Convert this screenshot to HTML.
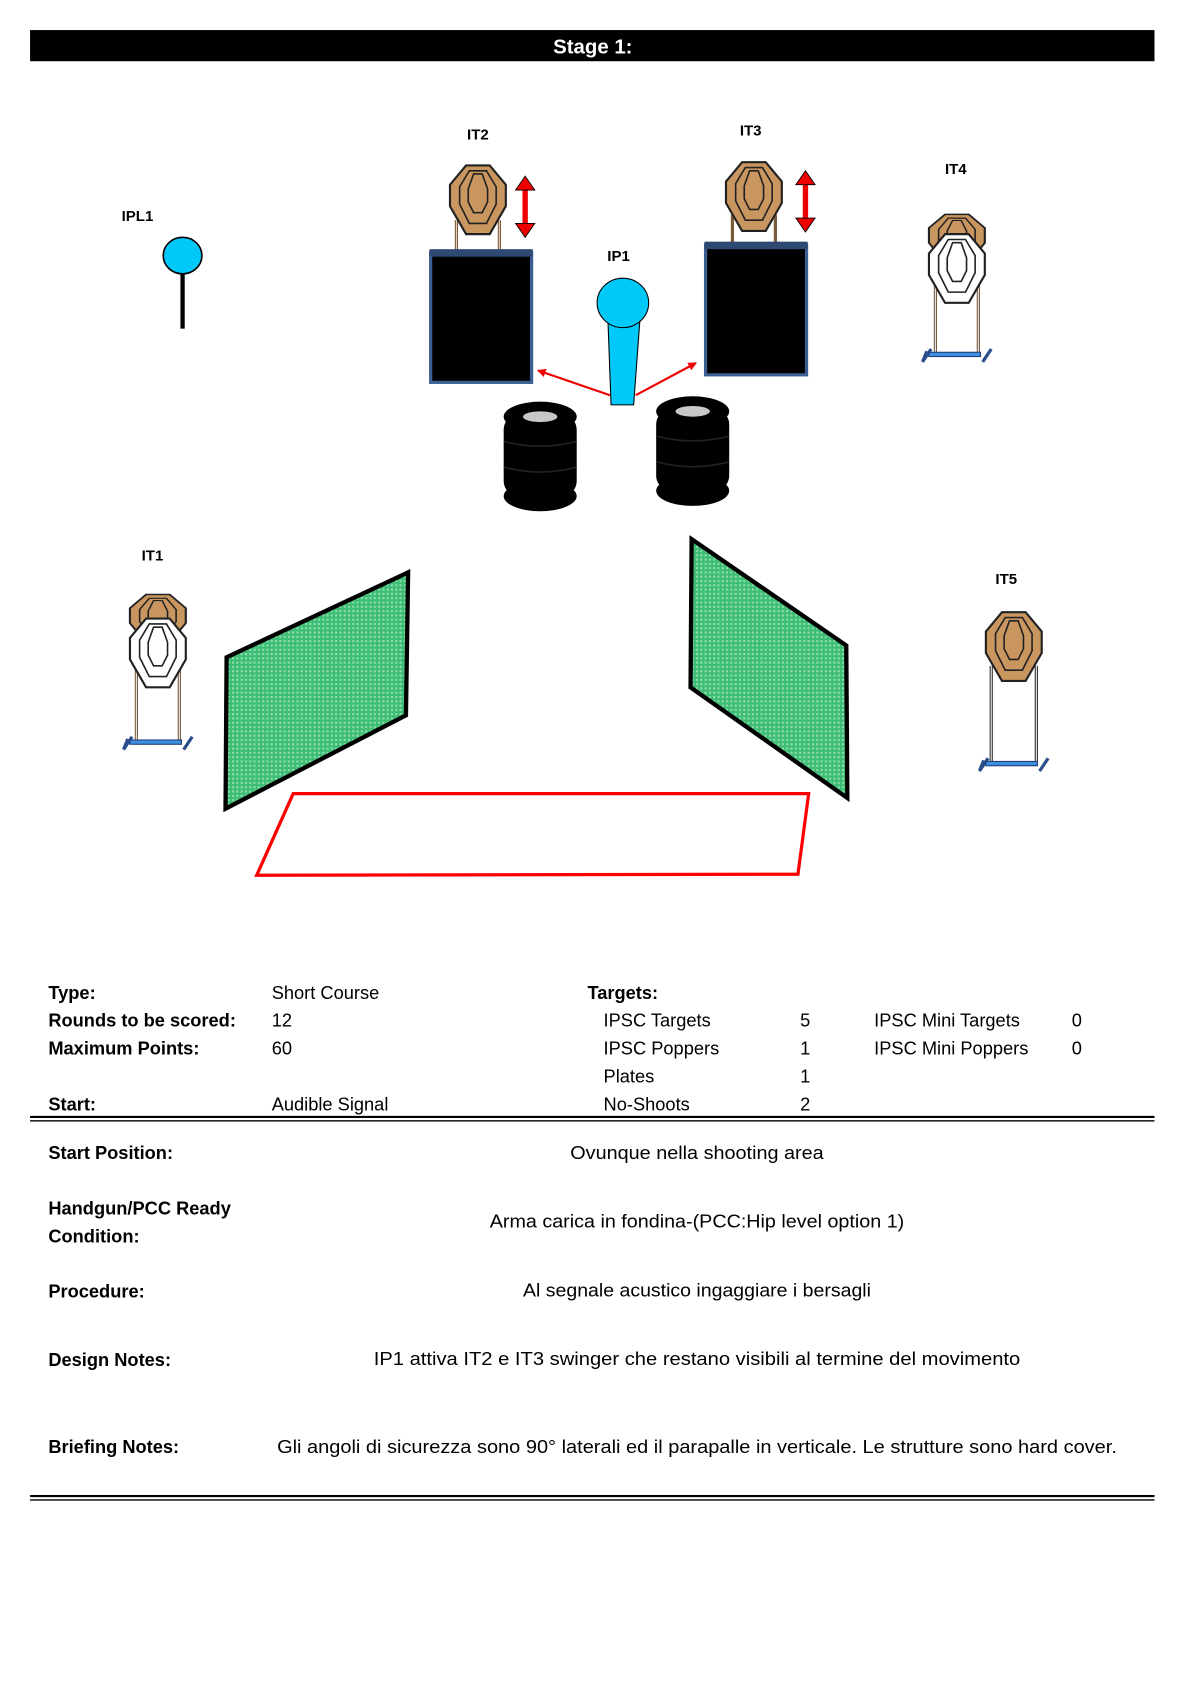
<!DOCTYPE html>
<html><head><meta charset="utf-8"><style>
html,body{margin:0;padding:0;background:#fff;}
svg{display:block;}
text{font-family:"Liberation Sans",sans-serif;}
</style></head><body>
<svg width="1191" height="1684" viewBox="0 0 1109 1568" preserveAspectRatio="none" xmlns="http://www.w3.org/2000/svg">
<defs>
<pattern id="gp" width="4" height="4" patternUnits="userSpaceOnUse">
<rect width="4" height="4" fill="#3cbd74"/>
<rect width="2" height="2" fill="#8fdcae"/>
</pattern>
<g id="tb">
<path d="M-11,-32 L11,-32 L26,-14 L26,6 L11,32 L-11,32 L-26,6 L-26,-14 Z" fill="#c9965f" stroke="#222" stroke-width="2"/>
<path d="M-8,-27 L8,-27 L17,-12 L17,4 L8,22 L-8,22 L-17,4 L-17,-12 Z" fill="none" stroke="#222" stroke-width="1.5"/>
<path d="M-4,-24 L4,-24 L9,-10 L9,2 L4,12 L-4,12 L-9,2 L-9,-10 Z" fill="none" stroke="#222" stroke-width="1.5"/>
</g>
<g id="tw">
<path d="M-11,-32 L11,-32 L26,-14 L26,6 L11,32 L-11,32 L-26,6 L-26,-14 Z" fill="#fff" stroke="#222" stroke-width="2"/>
<path d="M-8,-27 L8,-27 L17,-12 L17,4 L8,22 L-8,22 L-17,4 L-17,-12 Z" fill="none" stroke="#222" stroke-width="1.5"/>
<path d="M-4,-24 L4,-24 L9,-10 L9,2 L4,12 L-4,12 L-9,2 L-9,-10 Z" fill="none" stroke="#222" stroke-width="1.5"/>
</g>
<g id="base">
<path d="M-32,6 L-28,-4 M-32,6 L-24,-6 M32,-6 L24,6" stroke="#2a4f8a" stroke-width="3" fill="none"/>
<rect x="-26" y="-3" width="48" height="4" fill="#3d8fe0" stroke="#1f3e7a" stroke-width="1"/>
</g>
<g id="tire">
<rect x="-34" y="8" width="68" height="76" rx="14" fill="#000"/>
<ellipse cx="0" cy="10" rx="34" ry="14" fill="#000"/>
<ellipse cx="0" cy="84" rx="34" ry="14" fill="#000"/>
<ellipse cx="0" cy="10" rx="16" ry="5" fill="#c8c8c8"/>
<path d="M-34,33 Q0,42 34,33 M-34,57 Q0,66 34,57" stroke="#222" stroke-width="1.5" fill="none"/>
</g>
<marker id="ah" markerWidth="8" markerHeight="8" refX="7" refY="4" orient="auto" markerUnits="userSpaceOnUse"><path d="M0,0 L8,4 L0,8 Z" fill="#e00"/></marker>
</defs>

<rect x="28" y="28" width="1047" height="29" fill="#000"/>
<text x="552" y="50" font-size="19" font-weight="bold" fill="#fff" text-anchor="middle">Stage 1:</text>

<g font-size="14" font-weight="bold" text-anchor="middle" fill="#000">
<text x="128" y="206">IPL1</text>
<text x="445" y="130">IT2</text>
<text x="699" y="126">IT3</text>
<text x="576" y="243">IP1</text>
<text x="890" y="162">IT4</text>
<text x="142" y="522">IT1</text>
<text x="937" y="544">IT5</text>
</g>

<rect x="168" y="252" width="4" height="54" fill="#000"/>
<ellipse cx="170" cy="238" rx="18" ry="17" fill="#00c8f8" stroke="#000" stroke-width="1.5"/>

<path d="M425,205 V236 M465,205 V236" stroke="#7a5a3a" stroke-width="3"/>
<path d="M425,205 V236 M465,205 V236" stroke="#e8d8c0" stroke-width="1"/>
<use href="#tb" x="445" y="186"/>
<rect x="401" y="235" width="94" height="121" fill="#000" stroke="#3b5f93" stroke-width="3"/>
<rect x="400" y="232" width="96" height="7" fill="#2e4a73"/>
<path d="M489,175 V210" stroke="#e00" stroke-width="5"/>
<path d="M480,177 L489,164 L498,177 Z M480,208 L489,221 L498,208 Z" fill="#e00" stroke="#000" stroke-width="0.8"/>

<path d="M682,200 V229 M722,200 V229" stroke="#7a5a3a" stroke-width="3"/>
<use href="#tb" x="702" y="183"/>
<rect x="657" y="228" width="94" height="121" fill="#000" stroke="#3b5f93" stroke-width="3"/>
<rect x="656" y="225" width="96" height="7" fill="#2e4a73"/>
<path d="M750,170 V205" stroke="#e00" stroke-width="5"/>
<path d="M741,172 L750,159 L759,172 Z M741,203 L750,216 L759,203 Z" fill="#e00" stroke="#000" stroke-width="0.8"/>

<path d="M566,296 L569,377 L590,377 L596,296 Z" fill="#00c8f8" stroke="#000" stroke-width="1"/>
<ellipse cx="580" cy="282" rx="24" ry="23" fill="#00c8f8" stroke="#000" stroke-width="1"/>
<path d="M568,368 L501,345" stroke="#e00" stroke-width="2" marker-end="url(#ah)"/>
<path d="M592,368 L648,338" stroke="#e00" stroke-width="2" marker-end="url(#ah)"/>

<use href="#tire" x="503" y="378"/>
<use href="#tire" x="645" y="373"/>

<path d="M871,255 V330 M911,255 V330" stroke="#7a5a3a" stroke-width="3"/>
<path d="M871,255 V330 M911,255 V330" stroke="#eee" stroke-width="1"/>
<use href="#tb" x="891" y="222" transform="translate(891 222) scale(1 0.7) translate(-891 -222)"/>
<use href="#tw" x="891" y="250"/>
<use href="#base" x="891" y="331"/>

<path d="M127,620 V690 M167,620 V690" stroke="#7a5a3a" stroke-width="3"/>
<path d="M127,620 V690 M167,620 V690" stroke="#eee" stroke-width="1"/>
<use href="#tb" x="147" y="576" transform="translate(147 576) scale(1 0.7) translate(-147 -576)"/>
<use href="#tw" x="147" y="608"/>
<use href="#base" x="147" y="692"/>

<path d="M923,620 V712 M965,620 V712" stroke="#333" stroke-width="3"/>
<path d="M923,620 V712 M965,620 V712" stroke="#eee" stroke-width="1"/>
<use href="#tb" x="944" y="602"/>
<use href="#base" x="944" y="712"/>

<polygon points="211,612 380,533 378,666 210,753" fill="url(#gp)" stroke="#000" stroke-width="4"/>
<polygon points="644,502 788,601 789,743 643,640" fill="url(#gp)" stroke="#000" stroke-width="4"/>

<polygon points="273,739 753,739 743,814 239,815" fill="none" stroke="#f00" stroke-width="3"/>

<g font-size="17" fill="#000">
<g font-weight="bold">
<text x="45" y="930">Type:</text>
<text x="45" y="956">Rounds to be scored:</text>
<text x="45" y="982">Maximum Points:</text>
<text x="45" y="1034">Start:</text>
<text x="547" y="930">Targets:</text>
<text x="45" y="1079">Start Position:</text>
<text x="45" y="1131">Handgun/PCC Ready</text>
<text x="45" y="1157">Condition:</text>
<text x="45" y="1208">Procedure:</text>
<text x="45" y="1272">Design Notes:</text>
<text x="45" y="1353">Briefing Notes:</text>
</g>
<text x="253" y="930">Short Course</text>
<text x="253" y="956">12</text>
<text x="253" y="982">60</text>
<text x="253" y="1034">Audible Signal</text>
<text x="562" y="956">IPSC Targets</text>
<text x="562" y="982">IPSC Poppers</text>
<text x="562" y="1008">Plates</text>
<text x="562" y="1034">No-Shoots</text>
<text x="745" y="956">5</text>
<text x="745" y="982">1</text>
<text x="745" y="1008">1</text>
<text x="745" y="1034">2</text>
<text x="814" y="956">IPSC Mini Targets</text>
<text x="814" y="982">IPSC Mini Poppers</text>
<text x="998" y="956">0</text>
<text x="998" y="982">0</text>
<text x="649" y="1079" text-anchor="middle" textLength="236" lengthAdjust="spacingAndGlyphs">Ovunque nella shooting area</text>
<text x="649" y="1143" text-anchor="middle" textLength="386" lengthAdjust="spacingAndGlyphs">Arma carica in fondina-(PCC:Hip level option 1)</text>
<text x="649" y="1207" text-anchor="middle" textLength="324" lengthAdjust="spacingAndGlyphs">Al segnale acustico ingaggiare i bersagli</text>
<text x="649" y="1271" text-anchor="middle" textLength="602" lengthAdjust="spacingAndGlyphs">IP1 attiva IT2 e IT3 swinger  che restano visibili al termine del movimento</text>
<text x="258" y="1353" textLength="782" lengthAdjust="spacingAndGlyphs">Gli angoli di sicurezza sono 90° laterali ed il parapalle in verticale. Le strutture sono hard cover.</text>
</g>
<rect x="28" y="1039" width="1047" height="2" fill="#000"/>
<rect x="28" y="1043" width="1047" height="1.3" fill="#000"/>
<rect x="28" y="1392" width="1047" height="2" fill="#000"/>
<rect x="28" y="1396" width="1047" height="1.3" fill="#000"/>
</svg>
</body></html>
